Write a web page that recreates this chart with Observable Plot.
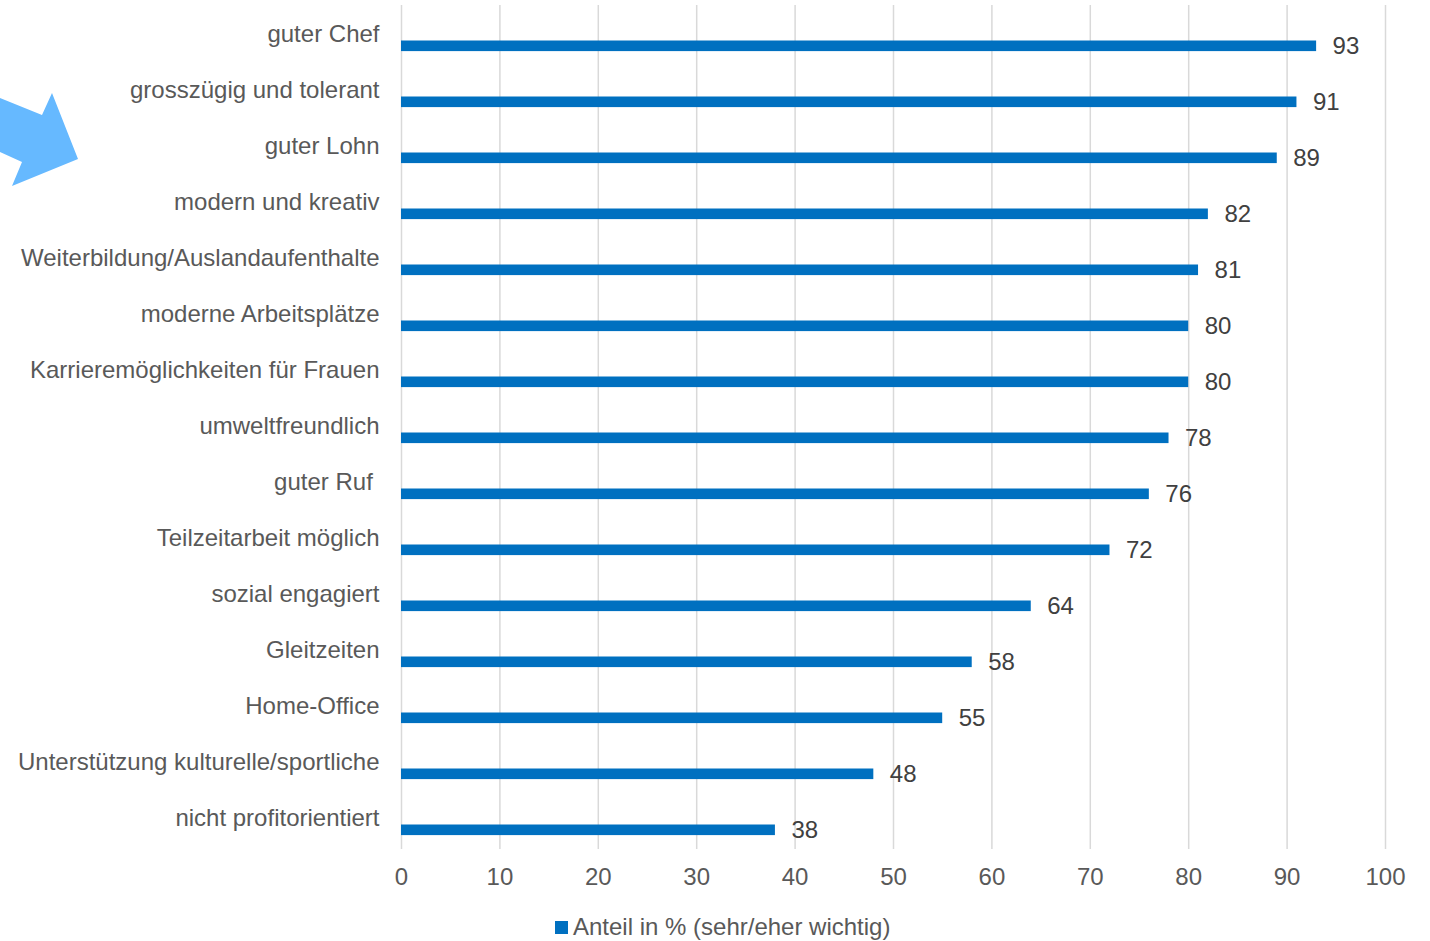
<!DOCTYPE html>
<html>
<head>
<meta charset="utf-8">
<script src="https://cdn.jsdelivr.net/npm/d3@7"></script>
<script src="https://cdn.jsdelivr.net/npm/@observablehq/plot@0.6"></script>
<style>
  body { margin: 0; background: #fff; font-family: Arial, "Liberation Sans", sans-serif; }
  #wrap { position: relative; width: 1430px; height: 941px; }
  #legend { position: absolute; left: 555px; top: 913px; font-size: 24px; line-height: 28px; color: #595959; display: flex; align-items: center; white-space: nowrap; }
  #legend .sw { width: 13px; height: 13px; background: #0070C0; margin-right: 5px; }
  #arrow { position: absolute; left: 0; top: 0; }
</style>
</head>
<body>
<div id="wrap">
  <div id="chart"></div>
  <svg id="arrow" width="100" height="200"><polygon points="0,98 42,115 52,93 78,159 12,186 22,162 0,152" fill="#66B9FF"/></svg>
  <div id="legend"><div class="sw"></div><span>Anteil in % (sehr/eher wichtig)</span></div>
</div>
<script>
const categories = [
  "guter Chef",
  "grosszügig und tolerant",
  "guter Lohn",
  "modern und kreativ",
  "Weiterbildung/Auslandaufenthalte",
  "moderne Arbeitsplätze",
  "Karrieremöglichkeiten für Frauen",
  "umweltfreundlich",
  "guter Ruf\u00a0",
  "Teilzeitarbeit möglich",
  "sozial engagiert",
  "Gleitzeiten",
  "Home-Office",
  "Unterstützung kulturelle/sportliche",
  "nicht profitorientiert"
];
const values = [93, 91, 89, 82, 81, 80, 80, 78, 76, 72, 64, 58, 55, 48, 38];
const xTicks = [0, 10, 20, 30, 40, 50, 60, 70, 80, 90, 100];

const data = categories.map((c, i) => ({category: c, value: values[i]}));

const chart = Plot.plot({
  width: 1430,
  height: 900,
  marginLeft: 401,
  marginRight: 45,
  marginTop: 5,
  marginBottom: 51,
  style: {fontFamily: 'Arial, "Liberation Sans", sans-serif', fontSize: "24px", background: "#fff"},
  x: {domain: [0, 100]},
  y: {domain: categories, padding: 0},
  marks: [
    Plot.gridX(xTicks, {stroke: "#d9d9d9", strokeOpacity: 1, strokeWidth: 1.5}),
    Plot.barX(data, {x: "value", y: "category", fill: "#0070C0", insetTop: 33.5, insetBottom: 11.9}),
    Plot.text(data, {x: "value", y: "category", text: d => String(d.value), dx: 16, dy: 11, textAnchor: "start", fill: "#404040", fontSize: 24}),
    Plot.axisX(xTicks, {tickSize: 0, tickPadding: 18.5, fontSize: 24, fill: "#595959", label: null}),
    Plot.axisY({tickSize: 0, tickPadding: 22, dy: -1.5, fontSize: 24, fill: "#595959", label: null})
  ]
});
document.getElementById("chart").appendChild(chart);
</script>
</body>
</html>
